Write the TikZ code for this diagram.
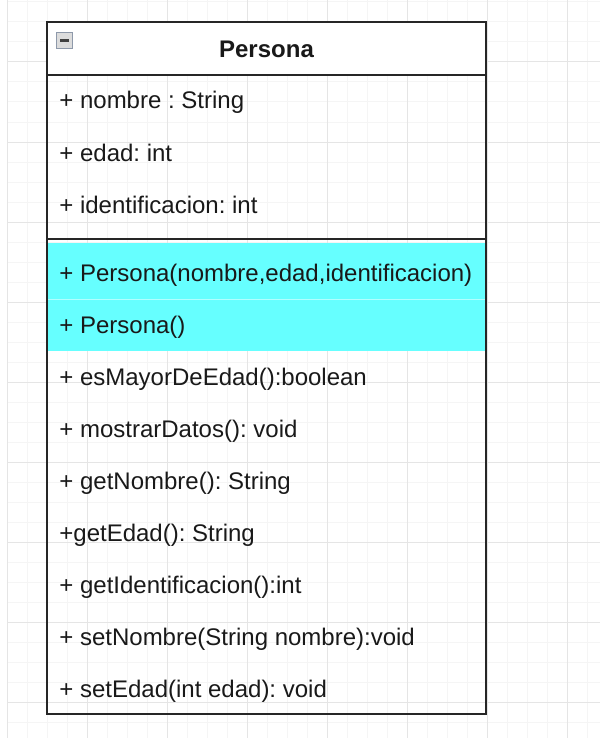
\documentclass[tikz,border=0pt]{standalone}
\usepackage{fontspec}
\setmainfont{Liberation Sans}
\frenchspacing
\definecolor{rowcyan}{HTML}{66FFFF}
\definecolor{iconedge}{HTML}{8E99AA}
\definecolor{iconfill}{HTML}{DCDCDC}

\begin{document}
\begin{tikzpicture}[x=0.5pt,y=-0.5pt,
  minorline/.style={draw=black!4,line width=0.5pt},
  majorline/.style={draw=black!10,line width=0.5pt},
  frame/.style={draw=black!85,line width=1pt},
  member/.style={anchor=base west,inner sep=0pt,font=\fontsize{12}{14}\selectfont,text=black!90}]
  \useasboundingbox (0,0) rectangle (600,738);
  % grid
  \foreach \x in {27,47,...,587} \draw[minorline] (\x,0) -- (\x,738);
  \foreach \y in {2,22,...,738} \draw[minorline] (7,\y) -- (600,\y);
  \foreach \x in {7,87,...,567} \draw[majorline] (\x,0) -- (\x,738);
  \foreach \y in {62,142,...,702} \draw[majorline] (7,\y) -- (600,\y);
  % class box
  \fill[white] (47,22) rectangle (486,75);
  \fill[rowcyan] (47,243) rectangle (486,351);
  \draw[white,opacity=0.5,line width=0.5pt] (47,299) -- (486,299);
  \draw[frame] (47,22) rectangle (486,714);
  \draw[frame] (47,75) -- (486,75);
  \draw[frame] (47,239) -- (486,239);
  % collapse icon
  \draw[iconedge,fill=iconfill,line width=0.8pt] (56.5,32.5) rectangle (72.5,48.5);
  \draw[black!75,line width=1.2pt] (60,40.5) -- (69,40.5);
  \node (title) [anchor=base,inner sep=0pt,font=\fontsize{12}{14}\selectfont\bfseries,text=black!90] at (266.5,58) {Persona};
  % attributes
  \node (a_1) [member] at (59,109) {+ nombre : String};
  \node (a_2) [member] at (59,161) {+ edad: int};
  \node (a_3) [member] at (59,213) {+ identificacion: int};
  % methods
  \node (m_1) [member] at (59,281) {+ Persona(nombre,edad,identificacion)};
  \node (m_2) [member] at (59,333) {+ Persona()};
  \node (m_3) [member] at (59,385) {+ esMayorDeEdad():boolean};
  \node (m_4) [member] at (59,437) {+ mostrarDatos(): void};
  \node (m_5) [member] at (59,489) {+ getNombre(): String};
  \node (m_6) [member] at (59,541) {+getEdad(): String};
  \node (m_7) [member] at (59,593) {+ getIdentificacion():int};
  \node (m_8) [member] at (59,645) {+ setNombre(String nombre):void};
  \node (m_9) [member] at (59,697) {+ setEdad(int edad): void};
\end{tikzpicture}
\end{document}
